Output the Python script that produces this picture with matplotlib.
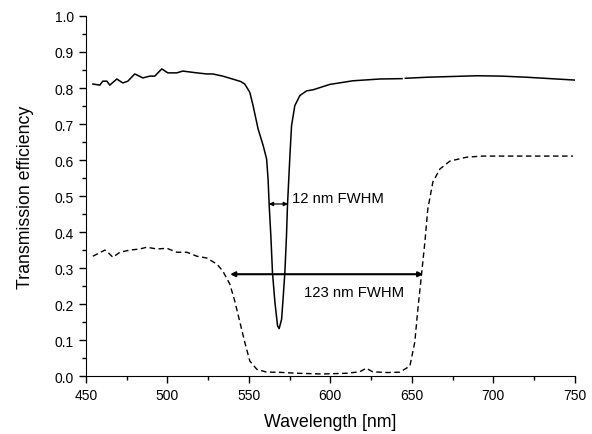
import numpy as np
import matplotlib
matplotlib.use("Agg")
import matplotlib.pyplot as plt
from matplotlib.ticker import MultipleLocator, FormatStrFormatter

plt.rcParams['font.family'] = ['Liberation Sans', 'DejaVu Sans']

# Narrow-band filter (solid)
wl_narrow = [454.3, 458.6, 460.4, 462.9, 464.7, 469.0, 472.7, 475.8, 480.0, 485.0,
             489.3, 492.3, 496.6, 500.3, 505.8, 509.5, 518.1, 524.2, 527.9, 534.0,
             541.4, 545.0, 547.5, 550.6, 552.6, 555.7, 558.8, 560.9, 561.8, 562.5,
             563.5, 564.5, 566.0, 567.6, 568.6, 570.1, 571.0, 572.1, 573.1, 573.7,
             574.5, 575.2, 576.2, 578.2, 581.3, 585.4, 589.4, 599.7, 613.8, 630.4,
             644.0, 645.0, 646.0, 660.0, 675.0, 690.0, 705.0, 720.0, 735.0, 750.0]
tr_narrow = [0.811, 0.808, 0.819, 0.819, 0.808, 0.825, 0.814, 0.819, 0.839, 0.828,
             0.833, 0.833, 0.853, 0.842, 0.842, 0.847, 0.842, 0.839, 0.839, 0.833,
             0.823, 0.818, 0.811, 0.788, 0.751, 0.686, 0.640, 0.603, 0.547, 0.473,
             0.390, 0.288, 0.205, 0.140, 0.132, 0.158, 0.214, 0.288, 0.390, 0.473,
             0.547, 0.612, 0.695, 0.751, 0.779, 0.792, 0.795, 0.810, 0.820, 0.825,
             0.826, np.nan, 0.827, 0.830, 0.832, 0.834, 0.833, 0.830, 0.826, 0.822]

# Broad-band filter (dashed)
wl_broad = [454.3, 461.7, 463.5, 466.6, 470.9, 477.0, 483.1, 487.4, 493.6, 499.7,
            505.8, 512.0, 518.1, 524.2, 530.4, 534.0, 538.3, 541.4, 544.5, 547.5,
            550.6, 554.9, 561.0, 567.2, 580.0, 595.0, 610.0, 618.0, 622.0, 626.0,
            635.0, 642.6, 648.8, 651.8, 653.7, 656.1, 658.0, 659.8, 662.9, 667.2,
            673.3, 683.7, 693.6, 714.4, 734.7, 748.8]
tr_broad = [0.333, 0.35, 0.344, 0.33, 0.344, 0.35, 0.353, 0.358, 0.353, 0.355,
            0.344, 0.344, 0.333, 0.328, 0.311, 0.292, 0.256, 0.208, 0.15, 0.094,
            0.042, 0.019, 0.011, 0.011, 0.008, 0.006, 0.008, 0.012, 0.022, 0.012,
            0.010, 0.011, 0.028, 0.094, 0.186, 0.289, 0.372, 0.464, 0.539, 0.575,
            0.597, 0.608, 0.611, 0.611, 0.611, 0.611]

fwhm_labels = ["12 nm FWHM", "123 nm FWHM"]
fwhm_start = [562.3, 538.5]
fwhm_end = [574.0, 657.0]
fwhm_level = [0.478, 0.283]

fig = plt.figure(figsize=(5.92, 4.35), dpi=100)
ax = fig.add_axes([0.145, 0.133, 0.826, 0.828])

ax.plot(wl_narrow, tr_narrow, color='black', lw=1.1, ls='-')
ax.plot(wl_broad, tr_broad, color='black', lw=1.0, ls=(0, (4, 2.5)))

ax.annotate('', xy=(fwhm_start[0], fwhm_level[0]), xytext=(fwhm_end[0], fwhm_level[0]),
            arrowprops=dict(arrowstyle='<|-|>', color='black', lw=0.9,
                            mutation_scale=6, shrinkA=0, shrinkB=0))
ax.annotate('', xy=(fwhm_start[1], fwhm_level[1]), xytext=(fwhm_end[1], fwhm_level[1]),
            arrowprops=dict(arrowstyle='<|-|>', color='black', lw=1.5,
                            mutation_scale=7, shrinkA=0, shrinkB=0))
ax.text(576.5, 0.494, fwhm_labels[0], fontsize=10.7, va='center', ha='left')
ax.text(584.0, 0.233, fwhm_labels[1], fontsize=10.7, va='center', ha='left')

ax.set_xlim(450, 750)
ax.set_ylim(0, 1.0)
ax.xaxis.set_major_locator(MultipleLocator(50))
ax.xaxis.set_minor_locator(MultipleLocator(25))
ax.yaxis.set_major_locator(MultipleLocator(0.1))
ax.yaxis.set_minor_locator(MultipleLocator(0.05))
ax.yaxis.set_major_formatter(FormatStrFormatter('%.1f'))
ax.tick_params(which='major', direction='out', length=5, width=1, labelsize=10)
ax.tick_params(which='minor', direction='out', length=3, width=1)
ax.spines['top'].set_visible(False)
ax.spines['right'].set_visible(False)
ax.set_xlabel('Wavelength [nm]', fontsize=12.8, labelpad=8)
ax.set_ylabel('Transmission efficiency', fontsize=12.8, labelpad=15)

fig.savefig('out.png', dpi=100)
